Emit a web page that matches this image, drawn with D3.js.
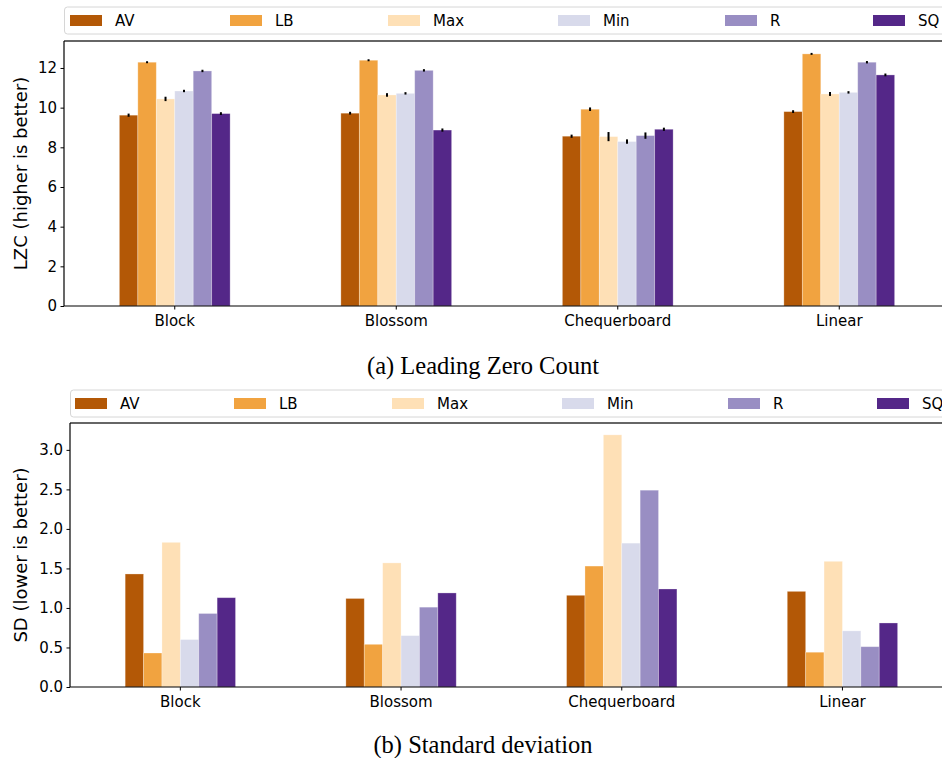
<!DOCTYPE html>
<html>
<head>
<meta charset="utf-8">
<script src="https://cdn.jsdelivr.net/npm/d3@7"></script>
<style>
  body { margin: 0; background: #fff; }
  text { font-family: "DejaVu Sans", sans-serif; }
  text.caption { font-family: "Liberation Serif", "Times New Roman", serif; }
</style>
</head>
<body>
<svg id="chart" width="942" height="758"></svg>
<script>
// data
var categories = ["Block", "Blossom", "Chequerboard", "Linear"];
var series = ["AV", "LB", "Max", "Min", "R", "SQ"];
var colors = ["#b35806", "#f1a340", "#fee0b6", "#d8daeb", "#998ec3", "#542788"];

// Leading zero count, one row per category (AV, LB, Max, Min, R, SQ)
var lzc = [
  [9.62, 12.29, 10.44, 10.84, 11.85, 9.70],
  [9.72, 12.39, 10.64, 10.72, 11.88, 8.87],
  [8.56, 9.92, 8.54, 8.29, 8.59, 8.91],
  [9.80, 12.71, 10.69, 10.77, 12.29, 11.65]
];
var lzcErr = [
  [0.05, 0.02, 0.08, 0.03, 0.03, 0.04],
  [0.04, 0.02, 0.06, 0.03, 0.03, 0.05],
  [0.05, 0.06, 0.20, 0.08, 0.13, 0.05],
  [0.04, 0.02, 0.07, 0.03, 0.03, 0.04]
];
var lzcTicks = [0, 2, 4, 6, 8, 10, 12];

// standard deviation
var sd = [
  [1.43, 0.43, 1.83, 0.60, 0.93, 1.13],
  [1.12, 0.54, 1.57, 0.65, 1.01, 1.19],
  [1.16, 1.53, 3.19, 1.82, 2.49, 1.24],
  [1.21, 0.44, 1.59, 0.71, 0.51, 0.81]
];
var sdTicks = [0, 0.5, 1.0, 1.5, 2.0, 2.5, 3.0];

var svg = d3.select("#chart");
svg.append("rect").attr("width", 942).attr("height", 758).attr("fill", "#fff");

function drawPanel(opt) {
  var g = svg.append("g");

  var x = d3.scaleBand()
    .domain(categories)
    .range([opt.left, opt.left + 4 * opt.step]);
  var bw = x.bandwidth();
  var x1 = d3.scaleBand()
    .domain(series)
    .range([-bw / 4, bw / 4]);

  var y = d3.scaleLinear()
    .domain([0, opt.ymax])
    .range([opt.bottom, opt.top]);

  // bars
  categories.forEach(function(cat, ci) {
    series.forEach(function(s, si) {
      var v = opt.values[ci][si];
      var cx = x(cat) + bw / 2;
      g.append("rect")
        .attr("x", cx + x1(s))
        .attr("y", y(v))
        .attr("width", x1.bandwidth())
        .attr("height", y(0) - y(v))
        .attr("fill", colors[si])
        .attr("stroke", "#fff")
        .attr("stroke-opacity", 0.35)
        .attr("stroke-width", 0.8);
      if (opt.errors) {
        var e = opt.errors[ci][si];
        var ex = cx + x1(s) + x1.bandwidth() / 2;
        g.append("line")
          .attr("x1", ex).attr("x2", ex)
          .attr("y1", y(v - e) + 0.6).attr("y2", y(v + e) - 0.6)
          .attr("stroke", "#000")
          .attr("stroke-width", 2);
      }
    });
  });

  // axes
  var right = opt.left + 4 * opt.step;
  var yAxis = d3.axisLeft(y)
    .tickValues(opt.ticks)
    .tickFormat(opt.fmt)
    .tickSizeInner(3.5)
    .tickSizeOuter(0)
    .tickPadding(3.5);
  var ya = g.append("g")
    .attr("transform", "translate(" + opt.left + ",0)")
    .call(yAxis);
  ya.select(".domain").remove();
  ya.selectAll("text").attr("font-size", 15).attr("fill", "#000");

  var xAxis = d3.axisBottom(x)
    .tickSizeInner(3.5)
    .tickSizeOuter(0)
    .tickPadding(6);
  var xa = g.append("g")
    .attr("transform", "translate(0," + opt.bottom + ")")
    .call(xAxis);
  xa.select(".domain").remove();
  xa.selectAll("text").attr("font-size", 15).attr("fill", "#000");

  // spines
  g.append("line")
    .attr("x1", opt.left).attr("x2", right)
    .attr("y1", opt.top).attr("y2", opt.top)
    .attr("stroke", "#666").attr("stroke-width", 2);
  g.append("line")
    .attr("x1", opt.left).attr("x2", opt.left)
    .attr("y1", opt.top).attr("y2", opt.bottom)
    .attr("stroke", "#000").attr("stroke-width", 1.2);
  g.append("line")
    .attr("x1", opt.left).attr("x2", right)
    .attr("y1", opt.bottom).attr("y2", opt.bottom)
    .attr("stroke", "#000").attr("stroke-width", 1.2);

  // y label
  g.append("text")
    .attr("transform", "translate(" + opt.labelX + "," + ((opt.top + opt.bottom) / 2) + ") rotate(-90)")
    .attr("text-anchor", "middle")
    .attr("dominant-baseline", "central")
    .attr("font-size", 18)
    .text(opt.ylabel);

  // legend
  var lg = g.append("g");
  lg.append("rect")
    .attr("x", opt.left + 0.5).attr("y", opt.legendTop)
    .attr("width", 942).attr("height", 27)
    .attr("rx", 3)
    .attr("fill", "#fff")
    .attr("stroke", "#d6d6d6")
    .attr("stroke-width", 1);
  series.forEach(function(s, i) {
    var lx = opt.legendX[i];
    var ly = opt.legendTop + 13.5;
    lg.append("rect")
      .attr("x", lx).attr("y", ly - 5.5)
      .attr("width", 32).attr("height", 11)
      .attr("fill", colors[i]);
    lg.append("text")
      .attr("x", lx + 45).attr("y", ly)
      .attr("dominant-baseline", "central")
      .attr("font-size", 15)
      .text(s);
  });

  // caption
  g.append("text")
    .attr("class", "caption")
    .attr("x", 483).attr("y", opt.captionY)
    .attr("text-anchor", "middle")
    .attr("font-size", 24.5)
    .text(opt.caption);
}

drawPanel({
  values: lzc, errors: lzcErr, ticks: lzcTicks, fmt: d3.format("d"),
  ymax: 13.36, left: 64, step: 221.5, top: 41, bottom: 306,
  labelX: 20, ylabel: "LZC (higher is better)",
  legendTop: 7, legendX: [70, 230, 388, 558, 725, 873],
  captionY: 374, caption: "(a) Leading Zero Count"
});

drawPanel({
  values: sd, errors: null, ticks: sdTicks, fmt: d3.format(".1f"),
  ymax: 3.34, left: 70, step: 220.7, top: 423, bottom: 687,
  labelX: 20, ylabel: "SD (lower is better)",
  legendTop: 390, legendX: [75, 234, 392, 562, 728, 877],
  captionY: 753, caption: "(b) Standard deviation"
});
</script>
</body>
</html>
